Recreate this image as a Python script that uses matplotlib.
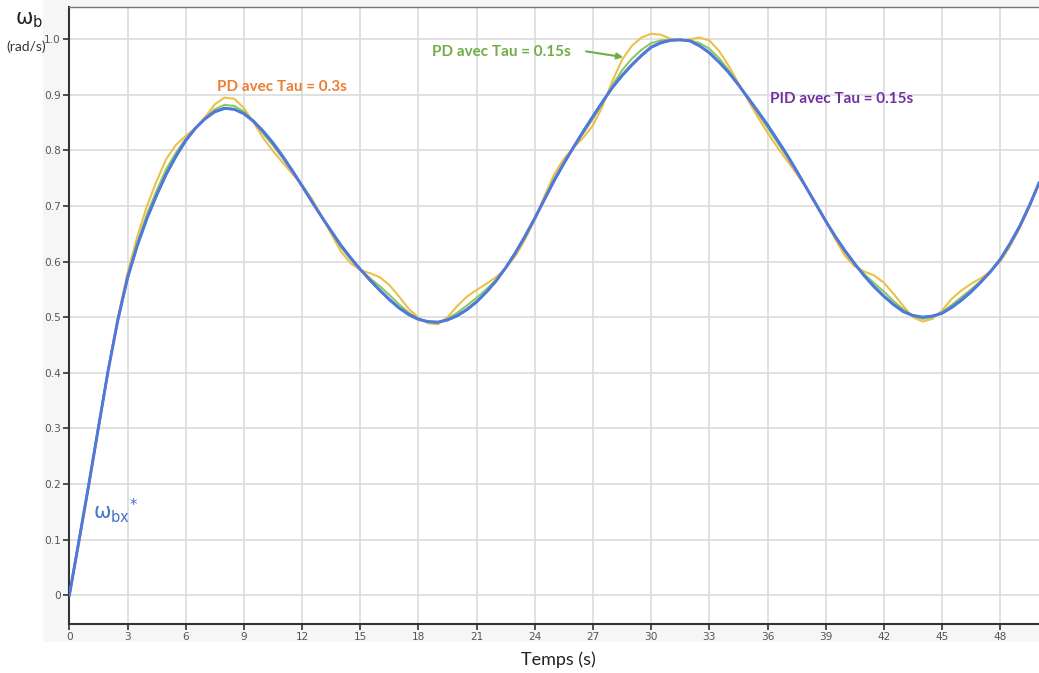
import matplotlib
matplotlib.use("Agg")
import matplotlib.pyplot as plt
from matplotlib.patches import Rectangle

# ---------------- data ----------------
t_half = [i * 0.5 for i in range(0, 101)]

ref_wbx = [0.000, 0.100, 0.200, 0.303, 0.405, 0.495, 0.570, 0.628, 0.677, 0.719,
           0.757, 0.789, 0.817, 0.840, 0.857, 0.869, 0.875, 0.874, 0.866, 0.853,
           0.835, 0.814, 0.790, 0.764, 0.736, 0.708, 0.681, 0.655, 0.630, 0.607,
           0.586, 0.566, 0.548, 0.531, 0.516, 0.504, 0.496, 0.492, 0.491, 0.495,
           0.502, 0.513, 0.527, 0.545, 0.565, 0.589, 0.616, 0.646, 0.678, 0.712,
           0.745, 0.776, 0.806, 0.835, 0.862, 0.888, 0.913, 0.934, 0.953, 0.970,
           0.985, 0.993, 0.998, 0.999, 0.997, 0.988, 0.975, 0.959, 0.940, 0.918,
           0.895, 0.871, 0.846, 0.820, 0.793, 0.764, 0.733, 0.703, 0.673, 0.645,
           0.620, 0.596, 0.574, 0.554, 0.537, 0.522, 0.510, 0.503, 0.500, 0.502,
           0.507, 0.517, 0.530, 0.545, 0.563, 0.582, 0.604, 0.632, 0.664, 0.701,
           0.742]

pid_015 = [0.000, 0.099, 0.199, 0.302, 0.404, 0.495, 0.571, 0.629, 0.678, 0.720,
           0.758, 0.790, 0.818, 0.840, 0.857, 0.870, 0.876, 0.874, 0.866, 0.852,
           0.834, 0.813, 0.789, 0.763, 0.736, 0.708, 0.681, 0.655, 0.629, 0.607,
           0.586, 0.567, 0.549, 0.532, 0.517, 0.505, 0.496, 0.492, 0.491, 0.495,
           0.503, 0.514, 0.528, 0.545, 0.565, 0.589, 0.616, 0.646, 0.678, 0.712,
           0.746, 0.777, 0.806, 0.834, 0.861, 0.888, 0.913, 0.935, 0.954, 0.971,
           0.986, 0.994, 0.998, 0.999, 0.997, 0.988, 0.976, 0.959, 0.940, 0.918,
           0.894, 0.870, 0.846, 0.819, 0.792, 0.763, 0.733, 0.703, 0.673, 0.645,
           0.619, 0.596, 0.574, 0.555, 0.538, 0.523, 0.510, 0.503, 0.500, 0.502,
           0.507, 0.518, 0.531, 0.546, 0.563, 0.582, 0.604, 0.632, 0.663, 0.700,
           0.741]

pd_015 = [0.000, 0.098, 0.198, 0.302, 0.405, 0.497, 0.574, 0.634, 0.685, 0.728,
          0.767, 0.796, 0.821, 0.840, 0.858, 0.874, 0.882, 0.880, 0.870, 0.852,
          0.830, 0.809, 0.786, 0.762, 0.737, 0.710, 0.681, 0.653, 0.626, 0.604,
          0.586, 0.570, 0.556, 0.540, 0.523, 0.508, 0.497, 0.491, 0.490, 0.497,
          0.508, 0.521, 0.535, 0.550, 0.567, 0.589, 0.614, 0.644, 0.677, 0.714,
          0.749, 0.779, 0.806, 0.831, 0.857, 0.885, 0.917, 0.944, 0.965, 0.981,
          0.993, 0.998, 0.999, 0.999, 0.998, 0.993, 0.983, 0.966, 0.944, 0.919,
          0.893, 0.867, 0.841, 0.815, 0.789, 0.762, 0.733, 0.704, 0.673, 0.643,
          0.617, 0.594, 0.577, 0.561, 0.546, 0.529, 0.514, 0.502, 0.497, 0.500,
          0.509, 0.522, 0.536, 0.550, 0.565, 0.582, 0.603, 0.630, 0.662, 0.700,
          0.741]

pd_03 = [0.000, 0.095, 0.195, 0.300, 0.405, 0.500, 0.580, 0.645, 0.700, 0.745,
         0.785, 0.810, 0.826, 0.840, 0.860, 0.883, 0.895, 0.893, 0.876, 0.850,
         0.822, 0.799, 0.778, 0.758, 0.738, 0.713, 0.682, 0.650, 0.618, 0.597,
         0.585, 0.579, 0.572, 0.558, 0.537, 0.515, 0.499, 0.489, 0.487, 0.500,
         0.520, 0.537, 0.549, 0.560, 0.572, 0.588, 0.610, 0.640, 0.675, 0.718,
         0.757, 0.785, 0.805, 0.823, 0.845, 0.880, 0.925, 0.963, 0.988, 1.003,
         1.010, 1.008, 1.001, 0.998, 1.000, 1.003, 0.998, 0.979, 0.952, 0.921,
         0.890, 0.860, 0.832, 0.806, 0.782, 0.758, 0.733, 0.705, 0.673, 0.640,
         0.610, 0.591, 0.582, 0.575, 0.562, 0.542, 0.520, 0.500, 0.492, 0.497,
         0.512, 0.533, 0.548, 0.560, 0.570, 0.583, 0.600, 0.627, 0.660, 0.698,
         0.740]

x_ticks = list(range(0, 49, 3))
y_ticks = [0.0, 0.1, 0.2, 0.3, 0.4, 0.5, 0.6, 0.7, 0.8, 0.9, 1.0]

# ---------------- figure ----------------
W, H = 1039, 673
fig = plt.figure(figsize=(W / 100, H / 100), dpi=100)
fig.patch.set_facecolor("white")
# light grey chart panel
fig.patches.append(Rectangle((43 / W, 1 - 642 / H), 1 - 43 / W, 642 / H,
                             transform=fig.transFigure, facecolor="#f6f6f6",
                             edgecolor="none", zorder=-10))

ax = fig.add_axes([69.4 / W, 49 / H, 1 - 69.4 / W, (624 - 7) / H])
ax.set_zorder(1)
ax.set_facecolor("white")
ax.set_xlim(0, 50)
ax.set_ylim(-0.052, 1.058)

ax.set_xticks(x_ticks)
ax.set_yticks(y_ticks)
ax.set_yticklabels(["0" if v == 0 else f"{v:.1f}" for v in y_ticks])
ax.grid(True, color="#dcdcdc", linewidth=1.2)
ax.set_axisbelow(True)
ax.tick_params(axis="both", colors="#333333", labelcolor="#555555",
               labelsize=7.6, length=4, width=1.2, direction="out", pad=2)

for side in ["left", "bottom"]:
    ax.spines[side].set_color("#333333")
    ax.spines[side].set_linewidth(1.5)
ax.spines["top"].set_color("#777777")
ax.spines["top"].set_linewidth(1.0)
ax.spines["right"].set_visible(False)

# curves
ax.plot(t_half, pd_03, color="#ecc04a", linewidth=1.5, zorder=3)
ax.plot(t_half, pd_015, color="#7fd05c", linewidth=1.5, zorder=4)
ax.plot(t_half, pid_015, color="#a24fdc", linewidth=2.1, zorder=5)
ax.plot(t_half, ref_wbx, color="#3d82db", linewidth=1.7, zorder=6)

# annotations
bold = dict(fontweight="bold", fontsize=11, family=["Lato", "DejaVu Sans"])
ax.text(10.95, 0.914, "PD avec Tau = 0.3s", color="#ed7d31", ha="center",
        va="center", **bold)
ax.text(22.3, 0.977, "PD avec Tau = 0.15s", color="#70ad47", ha="center",
        va="center", **bold)
ax.text(39.8, 0.893, "PID avec Tau = 0.15s", color="#7030a0", ha="center",
        va="center", **bold)
ax.annotate("", xy=(28.7, 0.967), xytext=(26.5, 0.979),
            arrowprops=dict(arrowstyle="-|>", color="#70ad47", lw=1.5,
                            mutation_scale=9))

ax.text(1.2, 0.152, r"$\mathregular{\omega_{bx}{}^{*}}$", color="#4472c4",
        fontsize=15, ha="left", va="center")

# axis titles
fig.text(29 / W, 1 - 20 / H, r"$\mathregular{\omega_{b}}$", color="#222222",
         fontsize=15, ha="center", va="center")
fig.text(26 / W, 1 - 47 / H, "(rad/s)", color="#333333", fontsize=10,
         ha="center", va="center", family=["Lato", "DejaVu Sans"])
fig.text(558 / W, 1 - 660 / H, "Temps (s)", color="#222222", fontsize=13,
         ha="center", va="center", family=["Lato", "DejaVu Sans"])

fig.savefig("out.png", dpi=100, facecolor=fig.get_facecolor())
